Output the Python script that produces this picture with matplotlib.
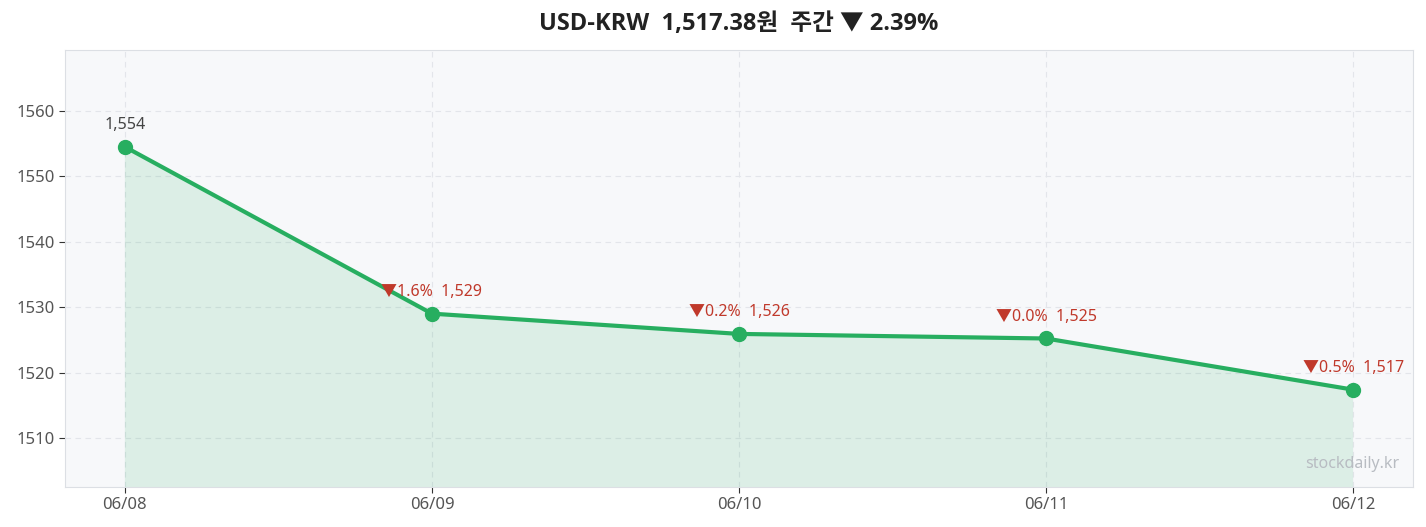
import numpy as np
import matplotlib
matplotlib.use("Agg")
import matplotlib.pyplot as plt

plt.rcParams['font.family'] = ['Noto Sans', 'Noto Sans CJK KR', 'DejaVu Sans']

# ---------------------------------------------------
# DATOS
# ---------------------------------------------------
fechas = ["06/08", "06/09", "06/10", "06/11", "06/12"]
precios = [1554.5, 1529.0, 1525.9, 1525.2, 1517.38]
cambio_semanal = 2.39

verde = "#27ae60"
rojo = "#c0392b"

x = np.arange(len(fechas))

fig = plt.figure(figsize=(14.26, 5.27), dpi=100)
ax = fig.add_axes([65 / 1426, 40 / 527, 1348 / 1426, 437 / 527])
ax.set_facecolor("#f7f8fa")

ax.fill_between(x, precios, 1400, color=verde, alpha=0.13, linewidth=0)
ax.plot(x, precios, color=verde, linewidth=3, marker="o", markersize=10, zorder=3)

# etiquetas sobre cada punto
for i, p in enumerate(precios):
    if i == 0:
        ax.annotate(f"{p:,.0f}", (x[i], p), xytext=(0, 10), textcoords="offset points",
                    ha="center", va="bottom", fontsize=11.5, color="#444444")
    else:
        pct = (p / precios[i - 1] - 1) * 100
        ax.annotate(f"▼{abs(pct):.1f}%  {p:,.0f}", (x[i], p), xytext=(0, 10),
                    textcoords="offset points", ha="center", va="bottom",
                    fontsize=11.5, color=rojo)

ax.set_xlim(-0.195, 4.195)
ax.set_ylim(1502.5, 1569.3)
ax.set_xticks(x)
ax.set_xticklabels(fechas)
ax.set_yticks([1510, 1520, 1530, 1540, 1550, 1560])
ax.tick_params(labelsize=12, colors="#333333", labelcolor="#555555", length=4)
ax.grid(True, linestyle=(0, (5, 4)), color="#e3e5ea", linewidth=0.8)
ax.set_axisbelow(True)
for s in ax.spines.values():
    s.set_color("#dcdfe4")

ax.text(0.99, 0.035, "stockdaily.kr", transform=ax.transAxes, ha="right", va="bottom",
        fontsize=11.5, color="#b8bcc2")

fig.suptitle(f"USD-KRW  {precios[-1]:,.2f}원  주간 ▼ {cambio_semanal:.2f}%",
             x=(65 + 1413) / 2 / 1426, y=0.978, fontsize=17, fontweight="bold",
             color="#222222", family=['Open Sans', 'Noto Sans CJK KR', 'DejaVu Sans'])

fig.savefig("out.png", facecolor="white")
plt.close()
